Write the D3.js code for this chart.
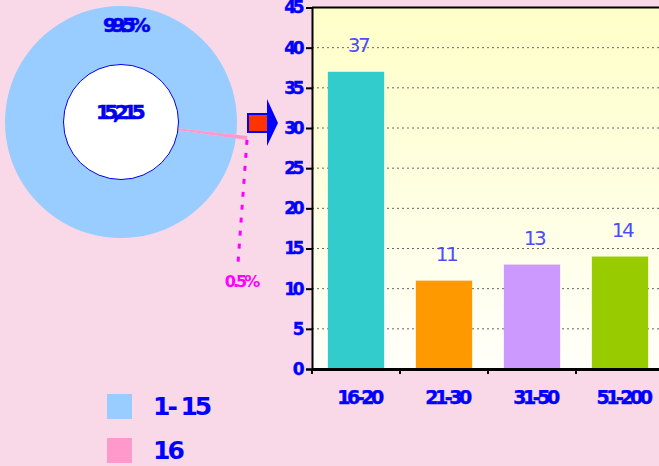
<!DOCTYPE html>
<html><head><meta charset="utf-8">
<script src="https://cdn.jsdelivr.net/npm/d3@7"></script>
<style>
html,body{margin:0;padding:0;background:#F9D9E8;}
svg{display:block;}
text{font-family:"DejaVu Sans",Verdana,sans-serif;}
</style></head>
<body>
<svg id="chart" width="659" height="466"></svg>
<script>
// Pie data
const pieLabels = ["1- 15", "16"];
const pieValues = [99.5, 0.5];
const pieColors = ["#99CCFF", "#FF99CC"];
const pieCenterText = "15,215";
const piePctText = ["99.5%", "0.5%"];

// Bar data
const categories = ["16-20", "21-30", "31-50", "51-200"];
const barValues = [37, 11, 13, 14];
const barColors = ["#33CCCC", "#FF9900", "#CC99FF", "#99CC00"];
const yTicks = [0, 5, 10, 15, 20, 25, 30, 35, 40, 45];

const svg = d3.select("#chart");
const defs = svg.append("defs");
const BOLD = "'DejaVu Sans',Verdana,sans-serif";

// ---------- Donut ----------
const cx = 121, cy = 122;
const startA = 98.1 * Math.PI / 180;
const pie = d3.pie().sort(null).startAngle(startA).endAngle(startA + 2 * Math.PI);
const arcs = pie(pieValues);
const outerR = [116, 127];
const g = svg.append("g").attr("transform", `translate(${cx},${cy})`);
g.selectAll("path.slice").data(arcs).enter().append("path")
  .attr("class", "slice")
  .attr("d", (d, i) => d3.arc().innerRadius(57).outerRadius(outerR[i])(d))
  .attr("fill", (d, i) => pieColors[i]);
g.append("circle").attr("r", 57.5).attr("fill", "#fff").attr("stroke", "#0000EE").attr("stroke-width", 1);
g.append("text").attr("x", -3).attr("y", -3).attr("text-anchor", "middle")
  .attr("font-size", 20).attr("font-weight", "bold").attr("letter-spacing", -5.5)
  .attr("stroke", "#0000EE").attr("stroke-width", 0.5)
  .attr("fill", "#0000EE").text(pieCenterText);

g.append("text").attr("x", 3).attr("y", -90).attr("text-anchor", "middle")
  .attr("font-size", 20).attr("font-weight", "bold").attr("letter-spacing", -5.5)
  .attr("stroke", "#0000EE").attr("stroke-width", 0.5)
  .attr("fill", "#0000EE").text(piePctText[0]);
const small = arcs[1];
const midA = (small.startAngle + small.endAngle) / 2;
const ex = Math.sin(midA) * outerR[1], ey = -Math.cos(midA) * outerR[1];
g.append("line").attr("x1", ex).attr("y1", ey + 2).attr("x2", ex - 9).attr("y2", 141)
  .attr("stroke", "#FF00FF").attr("stroke-width", 3).attr("stroke-dasharray", "5,8");
g.append("text").attr("x", 120).attr("y", 165).attr("text-anchor", "middle")
  .attr("font-size", 16).attr("font-weight", "bold").attr("letter-spacing", -3)
  .attr("fill", "#FF00FF").text(piePctText[1]);

// ---------- Arrow ----------
const ar = svg.append("g");
ar.append("path").attr("d", "M267,99 L278,123 L267,146 Z").attr("fill", "#0000FF");
ar.append("rect").attr("x", 248).attr("y", 114).attr("width", 20).attr("height", 18)
  .attr("fill", "#FF3300").attr("stroke", "#0000FF").attr("stroke-width", 2);

// ---------- Bar chart ----------
const pLeft = 312, pRight = 664, pTop = 7.5, pBottom = 369;
const y = d3.scaleLinear().domain([0, 45]).range([pBottom, pTop]);
const x = d3.scaleBand().domain(categories).range([pLeft, pRight]).paddingInner(0.36).paddingOuter(0.18);

const grad = defs.append("linearGradient").attr("id", "bg").attr("x1", 0).attr("y1", 0).attr("x2", 0).attr("y2", 1);
grad.append("stop").attr("offset", "0%").attr("stop-color", "#FFFFC8");
grad.append("stop").attr("offset", "100%").attr("stop-color", "#FFFFFA");
svg.append("rect").attr("x", pLeft).attr("y", pTop).attr("width", pRight - pLeft).attr("height", pBottom - pTop)
  .attr("fill", "url(#bg)");

svg.append("g").selectAll("line").data(yTicks.filter(t => t > 0 && t < 45)).enter().append("line")
  .attr("x1", pLeft).attr("x2", pRight).attr("y1", d => y(d)).attr("y2", d => y(d))
  .attr("stroke", "#666").attr("stroke-width", 1).attr("stroke-dasharray", "2,3");

svg.append("g").selectAll("rect").data(barValues).enter().append("rect")
  .attr("x", (d, i) => x(categories[i])).attr("width", x.bandwidth())
  .attr("y", d => y(d)).attr("height", d => y(0) - y(d))
  .attr("fill", (d, i) => barColors[i]);

svg.append("g").selectAll("text").data(barValues).enter().append("text")
  .attr("x", (d, i) => x(categories[i]) + x.bandwidth() / 2 + 2)
  .attr("y", d => y(d) - 20)
  .attr("text-anchor", "middle").attr("font-size", 20).attr("letter-spacing", -2.5)
  .attr("font-family", "'Liberation Sans Narrow','Liberation Sans',sans-serif")
  .attr("fill", "#4D4DFF").text(d => d);

svg.append("line").attr("x1", pLeft).attr("x2", pRight).attr("y1", pTop).attr("y2", pTop)
  .attr("stroke", "#000").attr("stroke-width", 2);

const yAxis = d3.axisLeft(y).tickValues(yTicks).tickSize(6).tickPadding(5);
const ya = svg.append("g").attr("transform", `translate(${pLeft},0)`).call(yAxis);
ya.select(".domain").attr("stroke", "#000").attr("stroke-width", 2);
ya.selectAll(".tick line").attr("stroke", "#000").attr("stroke-width", 2);
ya.selectAll(".tick text").attr("fill", "#0000FF").attr("font-size", 17).attr("font-weight", "bold")
  .attr("stroke", "#0000FF").attr("stroke-width", 0.4)
  .attr("letter-spacing", -3.5).attr("font-family", BOLD);

// x axis
const clip = defs.append("clipPath").attr("id", "xclip");
clip.append("rect").attr("x", 300).attr("y", 390).attr("width", 400).attr("height", 40);
const xa = svg.append("g").attr("transform", `translate(0,${pBottom})`)
  .call(d3.axisBottom(x).tickSize(0).tickFormat(""));
xa.select(".domain").attr("stroke", "#000").attr("stroke-width", 3);
const bounds = categories.map(c => x(c) - x.step() * x.paddingInner() / 2);
svg.append("g").selectAll("line").data(bounds).enter().append("line")
  .attr("x1", d => d).attr("x2", d => d).attr("y1", pBottom).attr("y2", pBottom + 5)
  .attr("stroke", "#000").attr("stroke-width", 2);
const xlabels = svg.append("g").attr("clip-path", "url(#xclip)");
xlabels.selectAll("text").data(categories).enter().append("text")
  .attr("x", d => x(d) + x.bandwidth() / 2 + 3).attr("y", 404)
  .attr("text-anchor", "middle").attr("fill", "#0000FF").attr("font-size", 19).attr("font-weight", "bold")
  .attr("stroke", "#0000FF").attr("stroke-width", 0.4)
  .attr("letter-spacing", -3.5).attr("font-family", BOLD).text(d => d);

// ---------- Legend ----------
const leg = svg.append("g");
const legY = [394, 438];
leg.selectAll("rect").data(pieLabels).enter().append("rect")
  .attr("x", 107).attr("y", (d, i) => legY[i]).attr("width", 25).attr("height", 25)
  .attr("fill", (d, i) => pieColors[i]);
leg.selectAll("text").data(pieLabels).enter().append("text")
  .attr("x", 153).attr("y", (d, i) => legY[i] + 21)
  .attr("font-size", 25).attr("font-weight", "bold").attr("letter-spacing", -3)
  .attr("font-family", BOLD)
  .attr("fill", "#0000FF").style("white-space", "pre").text(d => d);
</script>
</body></html>
